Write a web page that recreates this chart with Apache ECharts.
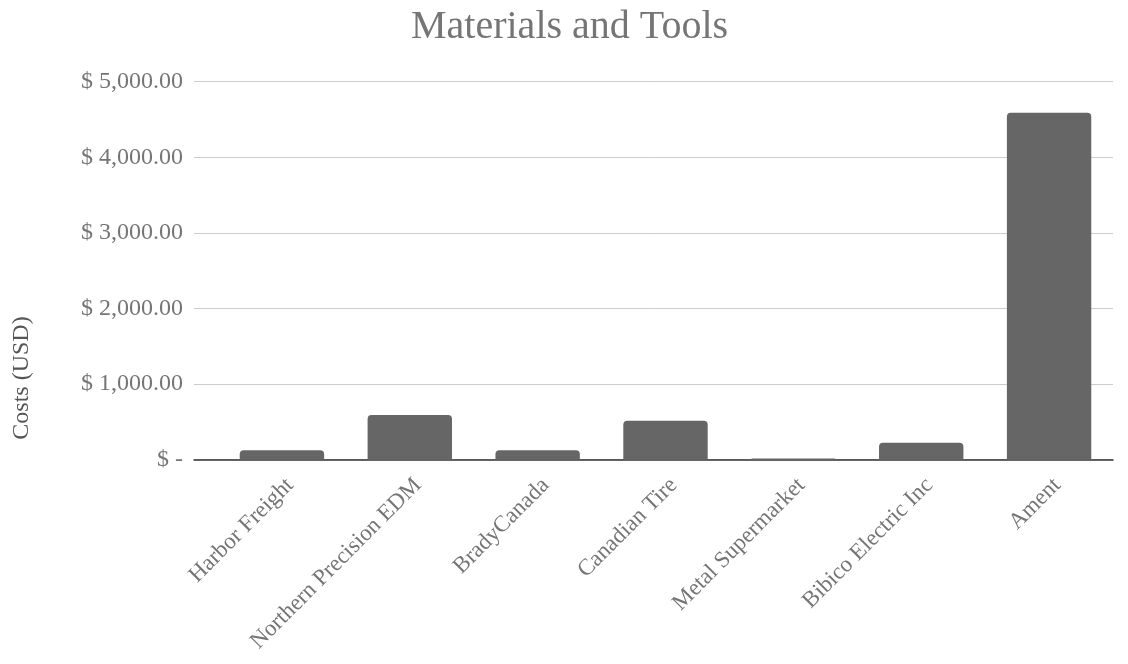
<!DOCTYPE html>
<html>
<head>
<meta charset="utf-8">
<script src="https://cdn.jsdelivr.net/npm/echarts@6/dist/echarts.min.js"></script>
<style>html,body{margin:0;padding:0;background:#fff}#c{width:1128px;height:664px}</style>
</head>
<body>
<div id="c"></div>
<script>
const categories = ["Harbor Freight", "Northern Precision EDM", "BradyCanada", "Canadian Tire", "Metal Supermarket", "Bibico Electric Inc", "Ament"];
const costs = [125, 590, 125, 515, 15, 225, 4590];
const yTicks = [0, 1000, 2000, 3000, 4000, 5000];
const titleText = "Materials and Tools";
const yAxisTitle = "Costs (USD)";

const FONT = "'Liberation Serif', 'Times New Roman', serif";
const GREY = "#757575";
const yMin = yTicks[0], yMax = yTicks[yTicks.length - 1], yStep = yTicks[1] - yTicks[0];

function fmt(v) {
  if (v === 0) return "$ -";
  return "$ " + v.toLocaleString("en-US", {minimumFractionDigits: 2, maximumFractionDigits: 2});
}

const chart = echarts.init(document.getElementById('c'));
chart.setOption({
  animation: false,
  backgroundColor: '#fff',
  title: {
    text: titleText, left: 406, top: 2,
    textStyle: {fontFamily: FONT, fontSize: 40, fontWeight: 'normal', color: GREY}
  },
  graphic: [{
    type: 'text', x: 22, y: 378, rotation: Math.PI / 2,
    style: {text: yAxisTitle, fontFamily: FONT, fontSize: 24, fill: '#555', align: 'center', verticalAlign: 'middle'}
  }],
  grid: [
    {left: 194, right: 15, top: 81.7, bottom: 204.3},
    {left: 218, right: 15, top: 81.7, bottom: 204.3}
  ],
  xAxis: [
    {gridIndex: 0, type: 'category', data: categories, axisLabel: {show: false}, axisTick: {show: false},
     axisLine: {show: true, lineStyle: {color: '#333', width: 1.5}}, z: 5},
    {gridIndex: 1, type: 'category', data: categories, axisTick: {show: false}, axisLine: {show: false},
     axisLabel: {rotate: 45, margin: 14, interval: 0, verticalAlign: 'top', fontFamily: FONT, fontSize: 23, color: GREY}}
  ],
  yAxis: [
    {gridIndex: 0, type: 'value', min: yMin, max: yMax, interval: yStep,
     axisLine: {show: false}, axisTick: {show: false},
     axisLabel: {margin: 11, fontFamily: FONT, fontSize: 24, color: GREY, formatter: fmt},
     splitLine: {lineStyle: {color: '#cccccc', width: 1}}},
    {gridIndex: 1, type: 'value', min: yMin, max: yMax, interval: yStep, show: false, splitLine: {show: false}}
  ],
  series: [{
    type: 'bar', xAxisIndex: 1, yAxisIndex: 1, data: costs,
    barCategoryGap: '34%',
    itemStyle: {color: '#666666', borderRadius: [4, 4, 0, 0]},
    z: 10
  }]
});
</script>
</body>
</html>
